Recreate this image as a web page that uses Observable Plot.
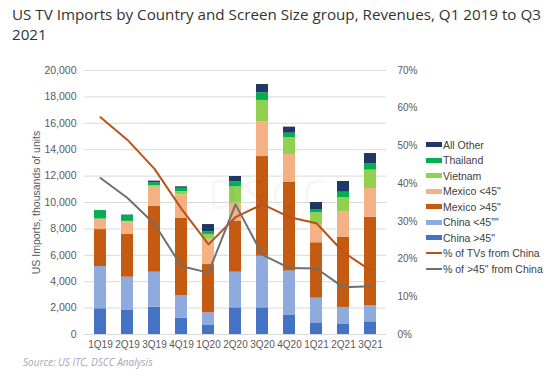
<!DOCTYPE html>
<html><head><meta charset="utf-8">
<script src="https://cdn.jsdelivr.net/npm/d3@7"></script>
<script src="https://cdn.jsdelivr.net/npm/@observablehq/plot@0.6"></script>
<style>
body{margin:0;background:#fff;width:550px;height:369px;overflow:hidden;position:relative;font-family:"Liberation Sans",Arial,sans-serif;}
#title{position:absolute;left:12px;top:4px;font-family:"Open Sans",sans-serif;font-size:15.2px;line-height:20px;color:#333;white-space:nowrap;}
#chart{position:absolute;left:0;top:48px;}
#source{position:absolute;left:23px;top:355px;font-size:10px;font-style:italic;color:#a6a6b8;font-family:"Open Sans",sans-serif;}
#legend{position:absolute;left:426px;top:137px;font-size:10.5px;color:#404040;font-family:"Liberation Sans",Arial,sans-serif;}
.row{height:15.5px;display:flex;align-items:center;}
.sw{width:16px;height:5px;margin-right:1px;}
.ln{width:16px;height:2px;margin-right:1px;}
#wm{position:absolute;left:208px;top:166px;font-size:40px;letter-spacing:6px;color:rgba(0,0,0,0.05);font-family:"Open Sans",sans-serif;pointer-events:none;}
</style></head>
<body>
<div id="title">US TV Imports by Country and Screen Size group, Revenues, Q1 2019 to Q3<br>2021</div>
<div id="chart"></div>
<div id="wm">DSCC</div>
<div id="legend"></div>
<div id="source">Source: US ITC, DSCC Analysis</div>
<script>
const quarters = ["1Q19","2Q19","3Q19","4Q19","1Q20","2Q20","3Q20","4Q20","1Q21","2Q21","3Q21"];
const seriesNames = ["China >45\"","China <45\"\"","Mexico >45\"","Mexico <45\"","Vietnam","Thailand","All Other"];
const chinaGt45  = [1950,1820,2070,1240, 680,2020,2020,1440, 880, 760, 960];
const chinaLt45  = [3200,2520,2650,1710, 960,2700,3910,3360,1870,1290,1210];
const mexicoGt45 = [2800,3240,4980,5860,3660,3840,7550,6740,4200,5300,6720];
const mexicoLt45 = [ 800, 990,1460,1770,1920,1390,2610,2100,1380,1920,2170];
const vietnam    = [   0,   0, 130, 250, 360,1240,1640,1260, 890,1110,1390];
const thailand   = [ 640, 450, 200, 250, 200, 380, 580, 350, 250, 400, 500];
const allOther   = [   0,  25, 130, 110, 550, 400, 630, 460, 530, 810, 760];
const pctTVsChina  = [57.6,51.6,43.9,33.3,23.9,31.1,34.5,31.1,29.5,21.8,17.0];
const pctGt45China = [41.5,36.2,29.3,18.1,16.4,34.5,21.1,17.6,17.5,12.5,12.8];
const leftTicks = [0,2000,4000,6000,8000,10000,12000,14000,16000,18000,20000];
const rightTicks = [0,10,20,30,40,50,60,70];
const colors = ["#4472c4","#8faadc","#c55a11","#f4b183","#92d050","#00b050","#203864"];
const lineColors = ["#b9531b","#6f6f6f"];

const seriesValues = [chinaGt45, chinaLt45, mexicoGt45, mexicoLt45, vietnam, thailand, allOther];
const bars = [];
seriesValues.forEach((vals, si) => vals.forEach((v, qi) => bars.push({q: quarters[qi], s: seriesNames[si], v})));
const yMax = 20000, pMax = 70;
const toY = p => p * yMax / pMax;
const l1 = quarters.map((q,i) => ({q, y: toY(pctTVsChina[i])}));
const l2 = quarters.map((q,i) => ({q, y: toY(pctGt45China[i])}));

const chart = Plot.plot({
  width: 550, height: 306,
  marginLeft: 84, marginRight: 164, marginTop: 22, marginBottom: 20,
  style: {fontFamily: "'Liberation Sans', Arial, sans-serif", fontSize: "10px", color: "#595959", background: "transparent"},
  x: {type: "band", domain: quarters, padding: 0.56, paddingOuter: 0.28, align: 0.5},
  y: {domain: [0, yMax]},
  color: {domain: seriesNames, range: colors},
  marks: [
    Plot.gridY(leftTicks, {stroke: "#d9d9d9", strokeOpacity: 1}),
    Plot.barY(bars, {x: "q", y: "v", fill: "s", order: seriesNames}),
    Plot.lineY(l1, {x: "q", y: "y", stroke: lineColors[0], strokeWidth: 2}),
    Plot.lineY(l2, {x: "q", y: "y", stroke: lineColors[1], strokeWidth: 2}),
    Plot.axisY(leftTicks, {anchor: "left", tickSize: 0, tickPadding: 8, tickFormat: d3.format(","), label: "US Imports, thousands of units", labelAnchor: "center", labelOffset: 52, labelArrow: "none", fontSize: 10.5}),
    Plot.axisY(rightTicks.map(toY), {anchor: "right", tickSize: 0, tickPadding: 11, tickFormat: d => Math.round(d * pMax / yMax) + "%", label: null, fontSize: 10}),
    Plot.axisX({tickSize: 0, tickPadding: 6, label: null, fontSize: 10})
  ]
});
document.getElementById("chart").appendChild(chart);

const legendItems = [
  ...seriesNames.map((n,i) => ({n, c: colors[i], t: "sw"})).reverse(),
  {n: "% of TVs from China", c: lineColors[0], t: "ln"},
  {n: "% of >45\" from China", c: lineColors[1], t: "ln"}
];
const lg = document.getElementById("legend");
legendItems.forEach(it => {
  const r = document.createElement("div"); r.className = "row";
  const s = document.createElement("span"); s.className = it.t; s.style.background = it.c;
  const t = document.createElement("span"); t.textContent = it.n;
  r.appendChild(s); r.appendChild(t); lg.appendChild(r);
});
</script>
</body></html>
